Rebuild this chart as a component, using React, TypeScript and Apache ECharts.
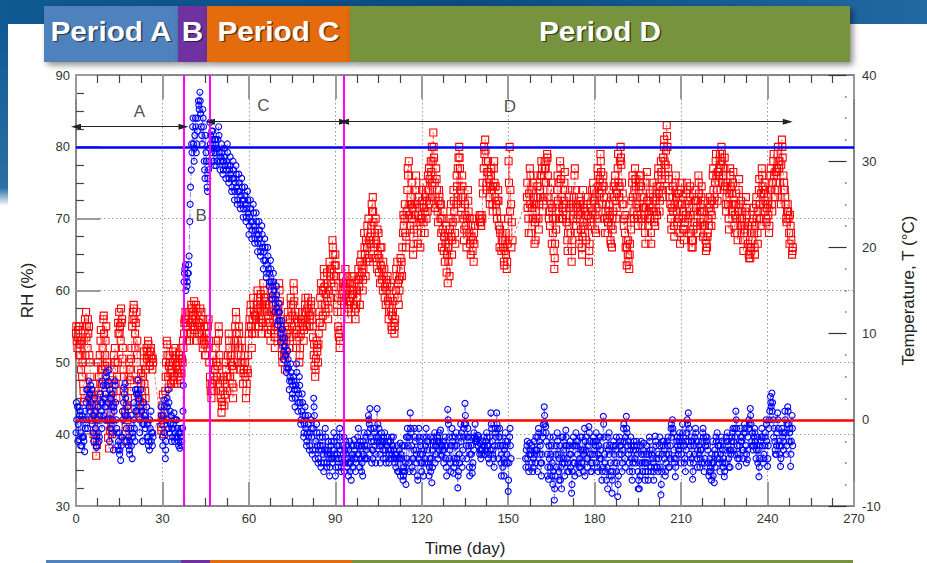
import React, { useEffect, useRef } from 'react';
import * as echarts from 'echarts';

const FONT = '"Liberation Sans", Arial, Helvetica, sans-serif';

// Readings are every 0.5 day from each period's first day; a second set of
// readings sits 0.25 day later and a third set 0.125 day later.
const STEP = 0.5;
const periodStarts = [0, 37, 46.5, 93];
const offsetStarts = [0.25, 37.25, 46.75, 93.25];
const thirdStarts = [0.125, 37.125, 46.625, 93.125];

// ---- Relative humidity (%), red squares ----
const rhA = [
  54, 52, 55, 51, 53, 47, 45, 57, 52, 55,
  48, 44, 47, 43, 37, 42, 48, 53, 47, 56,
  51, 55, 47, 38, 43, 40, 46, 52, 45, 50,
  57, 53, 56, 49, 43, 39, 45, 50, 46, 55,
  58, 54, 57, 49, 43, 47, 45, 50, 46, 52,
  53, 50, 52, 49, '-', '-', '-', '-', '-', 41,
  44, 40, 46, 53, 48, 51, 47, 50, 48, 52,
  47, 50, 49, 52,
];
const rhA2 = [
  53, 54.5, 52.5, 49, 50, 44.5, 51, 55, 54, 50,
  46, 45, 44, 40, 38.5, 46, 51, 49, 52, 54,
  53, 50, 42, 40.5, 41, 44, 49, 47, 48, 54,
  55, 55.5, 52, 46, 41, 42, 48, 47.5, 52, 57,
  56, 55.5, 53, 45, 44.5, 46, 48, 47, 49, 51.5,
  51, 51.5, 50.5, 50, '-', '-', '-', '-', '-', 42.5,
  42, 43, 50, 51, 49.5, 48.5, 49, 47.5, 50.5, 49.5,
  48.5, 51, 47.5, 50.5,
];
const rhA3 = [
  55, 53.5, 51, 53, 48, 46, 56, 53.5, 56, 51,
  45.5, 42, 40, 39, 44, 50, 45.5, 54.5, 49, 56.5,
  49.5, 44, 39.5, 42, 45, 47.5, 51, 50, 46, 55.5,
  54, 57.5, 50.5, 48, 40, 44, 43.5, 49, 50.5, 56,
  57.5, 52, 51, 47.5, 42.5, 48.5, 44, 51.5, 45, 50.5,
  52.5, 49.5, 51, 50.5, '-', '-', '-', '-', '-', 40.5,
  45.5, 41.5, 48, 52.5, 46.5, 50, 49, 51.5, 47, 51,
  49, 48, 50.5, 48.5,
];
const rhB = [50, 54, 57, 53, 56, 54, 58, 55, 58.5, 56, 53, 57, 55, 57, 52, 55, 51, 54, 56];
const rhB2 = [52, 56, 55, 55, 53, 57, 56, 57, 55, 57.5, 55, 54, 56, 54, 53, 51, 53, 55, 50];
const rhB3 = [53, 55.5, 56, 54, 57, 55.5, 57.5, 56.5, 54.5, 58, 54, 55.5, 57.5, 53, 56, 52.5, 54, 52, 53];
const rhC = [
  48, 45, 50, 46, 52, 48, 55, 47, 43, 46,
  44, 50, 46, 54, 48, 51, 45, 53, 57, 50,
  55, 49, 53, 47, 51, 45, 49, 54, 57, 52,
  59, 54, 56, 60, 55, 58, 54, 61, 57, 59,
  55, 58, 53, 60, 56, 52, 57, 55, 61, 56,
  51, 54, 49, 53, 57, 52, 59, 55, 61, 56,
  52, 57, 50, 54, 57, 53, 58, 56, 59, 55,
  58, 56, 51, 48, 53, 50, 57, 61, 55, 63,
  58, 61, 56, 64, 59, 67, 62, 65, 59, 55,
  52, 57, 62,
];
const rhC2 = [
  46, 47, 48, 49, 50, 53, 51, 45, 44.5, 48,
  47, 48, 51, 52, 50, 47, 49, 55, 54, 52,
  52, 51, 50, 49, 48, 47, 51, 56, 55, 56,
  57, 55, 58, 57.5, 57, 56, 58, 59, 58, 57,
  56.5, 55.5, 57, 58, 54, 55, 56, 58, 58.5, 53,
  52.5, 51, 51.5, 55, 54.5, 56, 57, 58, 58.5, 54,
  54.5, 53.5, 52, 55.5, 55, 56, 57, 57.5, 57, 56.5,
  57, 53.5, 49.5, 50.5, 51.5, 54, 59, 58, 60, 60.5,
  59.5, 58.5, 60, 62, 63, 65, 63.5, 62, 57, 53.5,
  54.5, 59.5, 60,
];
const rhC3 = [
  47, 46, 51, 47.5, 53, 49.5, 54, 46, 44, 47.5,
  45.5, 49, 48, 53, 51, 49.5, 46.5, 52, 56, 53,
  54, 50, 52, 48.5, 50, 46, 48.5, 55, 58, 54,
  58, 56.5, 57, 59, 56, 59.5, 55.5, 60, 58.5, 58,
  54, 57, 54.5, 59, 57, 53.5, 56, 57, 60, 55,
  50, 53, 50.5, 54, 56, 53.5, 58, 56.5, 60, 57,
  53, 55.5, 51, 56, 56, 54.5, 59, 55, 58, 56,
  58.5, 55, 52.5, 49, 52, 52.5, 55.5, 60, 56.5, 62,
  57, 62.5, 57.5, 63, 61, 66, 60.5, 63.5, 58, 54,
  53, 58.5, 61,
];
const rhD = [
  58, 63, 60, 56, 61, 57, 62, 58, 56, 60,
  63, 58, 65, 60, 68, 62, 66, 70, 64, 69,
  73, 66, 70, 63, 68, 61, 66, 60, 63, 58,
  61, 56, 59, 55, 57, 54, 60, 64, 58, 62,
  64, 68, 70, 66, 74, 78, 69, 75, 65, 72,
  76, 68, 73, 66, 70, 75, 68, 74, 71, 77,
  73, 80, 82, 75, 77, 71, 74, 70, 66, 71,
  64, 69, 61, 67, 70, 65, 74, 68, 72, 77,
  80, 74, 76, 70, 72, 66, 74, 68, 65, 70,
  64, 69, '-', '-', 70, 69.5, 70, 77, 81, 75,
  78, 73, 76, 72, 77, 73, 71, 74, 66, 70,
  68, 64, 67, 63, 70, 80, 72, 67, '-', '-',
  '-', '-', '-', '-', '-', '-', '-', 73, 70, 77,
  68, 75, 72, 67, 76, 70, 74, 78, 71, 75,
  77, 79, 73, 69, 75, 68, 63, 70, 74, 71,
  78, 73, 70, 75, 72, 67, 69, 74, 64, 70,
  76, 72, 68, 73, 71, 66, 74, 69, 67, 72,
  64, 69, 71, 75, 73, 68, 77, 72, 79, 74,
  76, 70, 72, 68, 74, 67, 66, 71, 75, 70,
  77, 73, 80, 75, 72, 68, 67, 65, 63, 70,
  75, 71, 77, 72, 69, 74, 76, 70, 73, 68,
  75, 70, 72, 68, 75, 71, 69, 73, 76, 71,
  78, 73, 80, 76, 83, 77, 74, 70, 73, 69,
  75, 71, 72, 68, 74, 70, 67, 72, 75, 70,
  73, 68, 66, 71, 74, 69, 76, 71, 73, 69,
  71, 67, 66, 70, 73, 69, 76, 72, 78, 74,
  75, 79, 80, 76, 77, 72, 74, 70, 77, 72,
  75, 69, 72, 68, 74, 70, 71, 67, 69, 73,
  68, 65, 64.5, 68, 70, 66, 72, 68, 74, 70,
  77, 72, 75, 70, 73, 68, 76, 72, 78, 74,
  75, 79, 77, 73, 81, 76, 74, 70, 72, 68,
  69, 65,
];
const rhD2 = [
  60.5, 61, 58, 58.5, 59, 59.5, 60, 57, 58, 61.5,
  60.5, 62, 62.5, 63, 65, 64, 68, 67, 66.5, 71,
  69.5, 68, 66.5, 65, 64.5, 63.5, 63, 62, 60.5, 60,
  58.5, 58, 57, 56.5, 55.5, 56, 62, 61, 60, 63,
  66, 69, 68, 71, 76, 72, 72, 71.5, 68.5, 74,
  72, 70.5, 69.5, 68, 72.5, 71.5, 71, 72.5, 74, 75.5,
  76.5, 78, 78.5, 73, 74, 72.5, 72, 68, 68.5, 67.5,
  66.5, 65, 64, 68.5, 67.5, 69.5, 71, 70, 74.5, 78.5,
  77, 73, 73, 68.5, 69, 70, 71, 66.5, 67.5, 67,
  66.5, '-', '-', '-', 69.5, 70.5, 73.5, 79, 78, 76.5,
  75.5, 74.5, 74, 74.5, 75, 72, 72.5, 69, 68, 67,
  66, 65.5, 65, 66.5, 75, 74, 69.5, '-', '-', '-',
  '-', '-', '-', '-', '-', '-', '-', 71.5, 73.5, 76,
  71.5, 73, 69.5, 70, 73, 72, 76, 77, 73, 77,
  78, 76, 71, 72, 71.5, 65.5, 66.5, 72, 72.5, 75,
  75.5, 71.5, 72.5, 74, 69.5, 68, 71.5, 72, 67, 73,
  74, 70, 70.5, 72, 68.5, 67.5, 71.5, 71, 69.5, 70.5,
  66.5, 70, 73, 74, 70.5, 70, 74.5, 75.5, 76.5, 75,
  73, 71, 70, 71, 70.5, 69, 68.5, 73, 72.5, 73.5,
  75, 78, 77.5, 73.5, 70, 66, 66, 64, 66.5, 72.5,
  73, 74, 74.5, 70.5, 71.5, 75, 73, 71.5, 70.5, 71.5,
  72.5, 71, 70, 71.5, 73, 70, 71, 74.5, 73.5, 74.5,
  75.5, 78.5, 78, 79.5, 80, 75.5, 72, 71.5, 71, 72,
  73, 73.5, 70, 72, 72, 68.5, 69.5, 73.5, 72.5, 71.5,
  70.5, 67, 68.5, 72.5, 71.5, 72.5, 73.5, 72, 71, 70,
  69, 66.5, 68, 71.5, 71, 72.5, 74, 75, 76, 76.5,
  77, 77.5, 78, 74, 74.5, 73, 72, 73.5, 74.5, 73.5,
  72, 70.5, 70, 71, 72, 72.5, 69, 68, 71, 70.5,
  66.5, 66, 66, 67, 68, 69, 70, 71, 72, 73.5,
  74.5, 73.5, 72.5, 71.5, 70.5, 74, 74, 75, 76, 76.5,
  77, 78, 75, 77.5, 78.5, 75, 72, 71, 70, 70.5,
  67, 66,
];
const rhD3 = [
  61, 59, 62, 57.5, 58.5, 62, 59.5, 61, 57.5, 59,
  61.5, 64, 63.5, 61.5, 66, 67, 69, 64.5, 67.5, 72,
  71, 64.5, 67, 68.5, 62.5, 66, 61.5, 64, 59, 61.5,
  62, 57, 60.5, 54.5, 58.5, 55, 63, 59, 61.5, 64.5,
  62, 70.5, 72, 67.5, 77, 70.5, 73, 70, 66.5, 70.5,
  74, 66.5, 71.5, 70, 74, 69.5, 73, 70, 76, 72,
  78, 75, 80, 71.5, 75.5, 69.5, 73, 72, 70, 65.5,
  68, 62.5, 66, 62, 72, 67, 72.5, 66.5, 76, 73,
  78.5, 71.5, 74.5, 67, 70.5, 68, 72.5, 70, 69, 65.5,
  68, '-', '-', '-', 70.5, 69, 75, 80, 79.5, 74,
  76.5, 72, 77, 71, 78, 74.5, 70, 72.5, 68.5, 65.5,
  67, 63.5, 68, 64, 78, 71, 66, '-', '-', '-',
  '-', '-', '-', '-', '-', '-', '-', 75, 68, 72,
  74, 70, 66.5, 72, 74.5, 68.5, 73, 76, 72.5, 78,
  75, 78.5, 70, 74, 66.5, 70, 64.5, 68.5, 76, 70,
  77, 70, 71, 76.5, 70.5, 65.5, 73, 68, 65.5, 71.5,
  77, 69, 71.5, 66.5, 72.5, 65, 72, 68, 70.5, 73,
  65.5, 71.5, 74, 72.5, 68.5, 71.5, 76, 73.5, 78, 72,
  74.5, 68, 73, 69.5, 72, 66.5, 70, 74.5, 76, 71.5,
  79, 74.5, 78.5, 72, 69, 70.5, 63.5, 67, 65, 68.5,
  76, 70, 75.5, 73, 70, 76, 74.5, 69, 71.5, 66.5,
  76.5, 69, 73.5, 66.5, 74, 69.5, 72.5, 70.5, 77, 72.5,
  76.5, 74, 81, 77.5, 81.5, 74, 73, 68.5, 74.5, 67.5,
  76, 69.5, 73.5, 66.5, 75, 71, 68.5, 70.5, 74, 68,
  74.5, 66, 67, 69.5, 72.5, 68, 75, 69.5, 74.5, 67.5,
  72.5, 65.5, 67.5, 69, 72, 70.5, 77, 73, 79, 72.5,
  76, 78, 79, 75, 78.5, 71, 75, 68.5, 76, 71,
  76.5, 68, 73.5, 67, 75.5, 69, 70, 65.5, 68.5, 71.5,
  69, 64.5, 65.5, 69.5, 71.5, 65, 73, 66.5, 75.5, 69,
  76, 71, 74, 69.5, 72, 69, 77, 71, 79, 73,
  76.5, 80, 78, 72, 80, 74, 73, 69.5, 71, 66.5,
  68, 65.5,
];

// ---- Temperature (°C), blue circles ----
const tA = [
  -1.5, 1.5, -2.3, 1, -3, 0, -3.7, 2, -1, 4.5,
  1, 3.5, -1.5, 2.5, -3, 0, -2.5, 3, -1, 4,
  0, 5.5, 2, 5.8, -1, 3, -3.5, 4.5, 0, -3,
  -1.5, -4.7, -2, 2, 4.2, -1, 1.5, -3.5, -1, -4.5,
  0, -2.5, 3, 4.6, 0, 3.5, -2.5, 2, -1, 1.5,
  -2, -3.5, 1, -3, '-', '-', '-', '-', '-', 1.5,
  -2, 2.3, -4.5, 0, 3.5, -1.5, 0.5, -2, 0.8, -1.5,
  0, -2.5, -3.3, -1,
];
const tA2 = [
  0, -0.5, 0.5, -1.5, -2, -2.5, -1, 3.5, 2.5, 3,
  2, 0.5, 0.5, -1, -2, -1.5, 0.5, 1, 2, 2.5,
  3, 4, 4.5, 3.5, 1.5, 0, 1, 2, -1.5, -2.5,
  -3.5, -3, 0, 3, 2.5, 0.5, -2, -2.5, -3, -2,
  -1, 1, 3.5, 2.5, 1.5, 1, -0.5, 0.5, 0, -0.5,
  -2.5, -1, -1.5, -2, '-', '-', '-', '-', '-', -0.5,
  0.5, -1.5, -2.5, 1.5, 2, -0.5, -1, -0.5, -2.5, 0,
  -1, -1.5, -2, -2.5,
];
const tA3 = [
  2, -2.5, 1.5, -3, 0.5, -2, 1, 0, 3.5, 1.5,
  4, -0.5, -2.5, 1, -3.2, 1.5, -2, 2, 4.5, 0.5,
  1.5, 5, 0, -2.5, 2.5, -1.5, 1.5, 4, -1, -3.5,
  -4, -2, 1, 3.8, 0.5, -2.5, -3, -4, 0.5, -1.5,
  2, 3.5, 1, 3, -1.5, 1, -2.5, -0.5, 0.5, -2,
  -3, 0, -2.5, -1.5, '-', '-', '-', '-', '-', 0.5,
  -3, 1.5, -3.5, 2.5, -1, 1, -2.5, -1, 0, -2,
  -2, -3, -1.5, -3,
];
const tB = [-1, 16, 18, 15.5, 17, 23, 29, 34, 30, 35, 32, 37, 38, 34, 36, 30, 33, 27, 29];
const tB2 = [4, 17.5, 16.5, 17, 19, 27, 31, 32, 33, 31, 35, 36, 35.5, 32, 34, 28, 30, 28, 31.5];
const tB3 = [1, 17, 15, 16, 18, 25, 32, 35, 31.5, 34, 33.5, 36.5, 37, 33, 35, 29, 31, 26.5, 30];
const tC = [
  34.5, 31, 33.5, 29.5, 32.5, 30, 34, 29, 32, 28.5,
  31.5, 28, 32, 27.5, 30.5, 26.5, 30, 25.5, 29.5, 25,
  28.5, 24.5, 28, 23.5, 27, 23, 26.5, 21.5, 25.5, 21,
  25, 20.5, 24, 19.5, 23, 19, 22.5, 17.5, 21, 16.5,
  20, 15.5, 18.5, 14, 17, 12.5, 15.5, 11, 13.5, 9,
  11.5, 7, 9.5, 5.5, 8, 3.5, 6.5, 2.5, 5, 1.5,
  6.5, 1, 5, -0.5, 3, -2, 1.5, -3, 0.5, -3.5,
  0, -4, 2.5, -4.5, -0.5, -5, -1.5, -5.5, -2, -6,
  -1, -5.5, -2.5, -6.5, -3, -5, -1.5, -6.5, -2, -5.5,
  -1, -6, -3,
];
const tC2 = [
  33, 32.5, 31.5, 31, 31.5, 32.5, 31, 30.5, 30, 30,
  29.5, 30, 29.5, 29, 28.5, 28, 28, 27.5, 27, 26.5,
  26.5, 26, 25.5, 25.5, 25, 24.5, 24, 23.5, 23, 23,
  22.5, 22, 21.5, 21.5, 21, 20.5, 20, 19.5, 18.5, 18,
  17.5, 17, 16, 15.5, 15, 14, 13, 12.5, 11.5, 10.5,
  9.5, 8.5, 7.5, 6.5, 6, 5, 4.5, 4, 3.5, 4,
  3.5, 3, 2, 1, 0.5, -0.5, -1, -1.5, -2, -1.5,
  -2, -1, 0.5, -2.5, -3, -3.5, -3, -3.5, -4, -3.5,
  -3.5, -4, -4.5, -4, -4.5, -3.5, -4, -4.5, -4, -3,
  -3.5, -4.5, -4,
];
const tC3 = [
  32, 33.5, 30, 32.5, 29.5, 31.5, 33, 30, 31, 29,
  30.5, 29, 31, 28, 29.5, 27, 29, 26.5, 28.5, 25.5,
  27.5, 25, 27, 24.5, 26, 23.5, 25.5, 22.5, 24.5, 22,
  24, 21, 23, 20.5, 22, 19.5, 21.5, 18.5, 20, 17,
  19, 16, 17.5, 14.5, 16, 13.5, 14.5, 11.5, 12.5, 10,
  10.5, 8, 8.5, 6, 7, 4.5, 5.5, 3, 4.5, 2.5,
  5.5, 2, 4, 0, 2, -1.5, 0.5, -2.5, -0.5, -3,
  -1, -3.5, 1.5, -3.5, -1.5, -4.5, -2, -5, -3, -5,
  -2, -5, -3.5, -5.5, -2.5, -4.5, -2.5, -5.5, -3, -4.5,
  -2, -5.5, -5,
];
const tD = [
  -2, -5, -3, -6.5, -2.5, -7, -4, -2.3, -6, -3,
  -1, -5.5, -3, -6.5, -1.5, -4.5, -3, 0.5, 1.3, -2.5,
  -4.5, -1, -5, 1.3, -2, -4, -1.5, -3.5, -2.5, -4.5,
  -2, -3.5, -4.5, -2, -3, -4.5, -5.5, -3, -6, -2.7,
  -4.5, -7, -3, -7.5, -1, -5, 0.8, -3, -6, -1,
  -3.5, -6.5, -1, -4, -6, -2, -5, -1, -3.5, -6.5,
  -2, -7.3, -3, -1.5, -4, -2, -3.5, -1.2, -4.2, -2.5,
  -3, -5.5, 1.2, -2, -5, -1, -6.2, -3, -1.5, -7.9,
  -4, -0.5, -5.5, -2, 1.9, -3, -1, -5.5, -2, -6.2,
  -3.5, -0.5, -2.5, -1.8, -2.7, -4.5, -3.5, -2, -4, -1.5,
  -3, -5, 0.8, -2.5, -4.5, -1, 0.8, -3, -1, -5,
  -3, -6.5, -1.5, -4, -8.3, -2, -4.5, '-', '-', '-',
  '-', '-', '-', '-', '-', '-', -4.5, -3, -5.5, -2.7,
  -4, -6, -2.5, -5, -3.5, -1, -4, -6.5, -2, 1.5,
  -0.8, -4, -6.9, -2, -3, -7.5, -9.3, -4, -1.5, -6,
  -3, -8, -2, -5, -1.2, -4.5, -6, -2.5, -8.5, -3,
  -5, -1.5, -4, -6.2, -2, -5, -6, -1, -3.5, -5.5,
  -0.8, -4, -6, -2.5, -4, -1.5, -5.5, -3, -2, -7,
  0.4, -4, -3, -8, -1.5, -5, -8.5, -3, -5, -2,
  -8.9, -4, -2.5, -6, -1, -4.5, 0.4, -3, -5, -2,
  -7, -3.5, -4.5, -2.5, -6, -8, -3, -5, -2.7, -7,
  -4, -6, -2, -5.5, -3.5, -7, -1.9, -4.5, -6, -3,
  -8.7, -4, -2.5, -6.5, -4, -2, -5.5, -1, 0, -3.5,
  -6.6, -2.5, -4, -1.5, -5, -0.5, -3, -6, -1.5, 0.8,
  -4, -2, -6.9, -3, -1, -4.5, -2.5, -5.5, -3.5, -1.5,
  -6, -3, -2, -5, -4.5, -7, -2.5, -7.3, -4, -1.5,
  -3, -6, -2, -5, -6.6, -3.5, -1.5, -4.5, -5.5, -2.5,
  -1, -4, 1, -3, -5.4, -1, -2.5, -4.5, -0.5, -3,
  -4.6, 0, 1.3, -2.5, -3.5, -1, -4.5, -2, -6.6, -3,
  -1, -5, -3, 0, -5.4, -1, 2.7, 3.1, 0, -2.5,
  -4, 0.8, -2.5, -5.4, -1, -3.5, 1, -4, 1.5, -2.5,
  -5.4, 0.5,
];
const tD2 = [
  -3.5, -4, -4.5, -5, -5, -4.5, -3, -4.5, -4.5, -2,
  -3, -4.5, -5, -4, -3, -3.5, -1.5, -0.5, -1, -3.5,
  -2.5, -3, -2, -0.5, -3, -2.5, -2.5, -2, -3.5, -3,
  -2.5, -4, -3.5, -3, -3.5, -4, -4, -4.5, -4.5, -4,
  -6, -5.5, -5, -4.5, -3, -2, -1.5, -4.5, -3.5, -2.5,
  -5, -4.5, -2.5, -5, -4, -3.5, -3, -2.5, -5, -4.5,
  -4.5, -5.5, -2.5, -3, -3, -2.5, -2.5, -3, -3.5, -3.5,
  -4.5, -3, -0.5, -3.5, -3, -2.5, -4.5, -5, -4.5, -6,
  -2, -1.5, -3.5, -0.5, -0.5, -2, -3, -4, -4, -5,
  -2, -2.2, -2.2, -2, -3.5, -4, -3, -3, -2.5, -3,
  -4, -3.5, -1, -3.5, -3, -2, -1, -2, -3, -4,
  -4.5, -5, -3, -2.5, -5, -3, '-', '-', '-', '-',
  '-', '-', '-', '-', '-', '-', -3.5, -4.5, -4, -4,
  -5, -4.5, -3.5, -3.5, -2, -2.5, -5, -4, -0.5, -0.5,
  -2.5, -5.5, -4.5, -4, -5, -6, -6.5, -5.5, -4, -4.5,
  -5.5, -5, -3.5, -3, -3, -5, -4, -4, -6, -5,
  -3, -3, -5, -4.5, -3.5, -3.5, -3.5, -2.5, -4.5, -3,
  -2.5, -5, -4, -3.5, -3, -2.5, -4, -4.5, -4.5, -5.5,
  -2, -6, -5.5, -3.5, -3, -6.5, -6, -4, -3.5, -5,
  -6.5, -3, -4, -3.5, -2.5, -2, -1.5, -4, -3.5, -4.5,
  -5, -3, -3.5, -4, -7, -6.5, -4, -3.5, -5, -5,
  -5, -4, -3.5, -4, -5, -5.5, -3, -5.5, -4.5, -5.5,
  -6, -3, -4.5, -5, -3, -4, -3, -2, -1.5, -5,
  -4.5, -3, -2.5, -3, -2.5, -2, -4.5, -3.5, -0.5, -1,
  -3, -4.5, -5, -2, -2.5, -3.5, -4, -3.5, -2.5, -2,
  -4.5, -2.5, -3.5, -6, -6, -5, -5, -5.5, -2.5, -3,
  -4.5, -4, -3.5, -4.5, -5, -2.5, -3, -3.5, -4, -1.5,
  -2.5, -2, -1, -4, -3, -2.5, -3.5, -1.5, -1.5, -4,
  -2, -1, -0.5, -1.5, -2, -2.5, -3, -3.5, -4.5, -2,
  -3, -4, -1.5, -2.5, -3, 1, 1.5, 2, -1, -4,
  -1.5, -1, -4, -3, -2, -1.5, -1.5, -0.5, -0.5, -1,
  -2.5, -3,
];
const tD3 = [
  -6, -2.5, -5.5, -3.5, -6, -3, -5.5, -3.5, -5, -4,
  -4, -2.5, -6, -2.5, -4.5, -2, -4.5, 0, -2, -5,
  -3.5, -1.5, -4, -2.5, -1, -5, -3, -4.5, -1.5, -5,
  -3, -5, -2.5, -4, -2, -5, -4.5, -6, -3.5, -6.5,
  -3, -6.5, -6, -2, -2, -6, -1, -5.5, -4.5, -2,
  -4, -7, -2, -3, -5, -6.5, -4.5, -2, -2.5, -5.5,
  -6, -3.5, -2, -5, -2.5, -4.5, -1.5, -4, -3, -5,
  -2, -6.5, 0, -4.5, -6, -2, -5.5, -2, -3, -6.5,
  -5, -2.5, -4.5, -1, 0.5, -4.5, -2, -6.5, -3, -5.5,
  -1.5, -2.5, -2.5, -3, -4, -3.5, -2.5, -4, -3.5, -2,
  -4.5, -2, -0.5, -4, -5.5, -1.5, -0.5, -4.5, -2, -6.5,
  -5.5, -3.5, -2.5, -5, -7, -1, '-', '-', '-', '-',
  '-', '-', '-', '-', '-', '-', -5.5, -2.5, -6, -3.5,
  -3, -5.5, -4, -2, -6, -1.5, -3, -5, -1.5, 0.5,
  -1.5, -6.5, -3, -5.5, -6.5, -2, -8, -3, -2.5, -7,
  -7, -2, -4.5, -6.5, -2, -6, -3, -5.5, -7.5, -2,
  -6.5, -2.5, -2.5, -5.5, -5.5, -2, -4, -6.5, -2, -4.5,
  -1.5, -6, -5, -2, -2.5, -5, -6, -2, -3.5, -6,
  -0.5, -5, -7, -2, -4, -6, -7, -2.5, -3, -6,
  -7.5, -2, -3, -5, -0.5, -5.5, -1, -2.5, -6, -3,
  -6, -2.5, -5, -3, -8, -5, -2.5, -6, -4, -6,
  -3, -7, -2.5, -6, -4.5, -6, -2.5, -5.5, -4, -2,
  -7.5, -2.5, -3.5, -6, -2.5, -5.5, -4.5, -0.5, -1, -4.5,
  -5.5, -2, -3.5, -2, -4, -1.5, -5, -2.5, 0, -2.5,
  -5, -2.5, -6, -4, -1.5, -5.5, -3, -4.5, -5, -1,
  -5, -2, -3, -6.5, -5.5, -4, -6.5, -3.5, -2, -4.5,
  -5, -3, -2.5, -5.5, -6, -2, -2.5, -5.5, -3.5, -2,
  -3.5, -1, 0, -4.5, -4.5, -2, -2, -3.5, -1, -5,
  -3.5, -0.5, 0.5, -3, -3, -1.5, -3.5, -5, -5.5, -2.5,
  -2, -4.5, -2, -0.5, -4.5, 0, 2, 1, -2, -3.5,
  -3, 0, -3, -4.5, -1.5, -2.5, 0, -3, 1, -1.5,
  -4, -1,
];

// ---- Reference lines and annotations ----
const rhLimitHigh = 80; // blue horizontal line (RH %)
const rhLimitLow = 42; // red horizontal line (RH %), i.e. T = 0 °C
const periodBoundaries = [37.3, 46.3, 93]; // magenta lines (day)
const periodArrows = [
  [0, 37.3, 82.8],
  [46.5, 93, 83.5],
  [93, 247, 83.5],
];
const periodLabels = [
  [22, 84.9, 'A'],
  [43.4, 70.5, 'B'],
  [65, 85.8, 'C'],
  [150.6, 85.6, 'D'],
];
const headerPeriods = ['Period A', 'B', 'Period C', 'Period D'];

function toPoints(starts: number[], arrays: any[][]) {
  const out: any[] = [];
  arrays.forEach((arr, k) => {
    arr.forEach((v, i) => out.push([starts[k] + i * STEP, v]));
  });
  return out;
}
function merged(...sets: any[][]) {
  return ([] as any[]).concat(...sets).sort((p, q) => p[0] - q[0]);
}

export default function App() {
  const ref = useRef<HTMLDivElement>(null);

  useEffect(() => {
    if (!ref.current) return;
    const chart = echarts.init(ref.current, null, { renderer: 'svg' });

    const rhData = merged(
      toPoints(periodStarts, [rhA, rhB, rhC, rhD]),
      toPoints(offsetStarts, [rhA2, rhB2, rhC2, rhD2]),
      toPoints(thirdStarts, [rhA3, rhB3, rhC3, rhD3]),
    );
    const tData = merged(
      toPoints(periodStarts, [tA, tB, tC, tD]),
      toPoints(offsetStarts, [tA2, tB2, tC2, tD2]),
      toPoints(thirdStarts, [tA3, tB3, tC3, tD3]),
    );

    const majorTick = { show: true, inside: true, length: 24, lineStyle: { color: '#9a9a9a', width: 2 } };
    const minorTick = { show: true, splitNumber: 4, length: 8, lineStyle: { color: '#444', width: 1.2 } };
    const frameLine = { show: true, onZero: false, lineStyle: { color: '#666', width: 1.5 } };
    const dotted = { show: true, lineStyle: { color: '#9a9a9a', width: 1, type: [1.5, 2.5] } };
    const tickLabel = { fontSize: 13, color: '#333', fontFamily: FONT };
    const nameStyle = { fontSize: 17, color: '#222', fontFamily: FONT };

    const barColors = ['#4F81BD', '#7030A0', '#E46C0A', '#77933C'];
    const barX = [44, 178, 207, 350, 850];
    const lineX = [46, 181, 210, 352, 853];

    const graphics: any[] = [
      {
        type: 'rect', z: -10, silent: true,
        shape: { x: 0, y: 0, width: 927, height: 24 },
        style: {
          fill: new echarts.graphic.LinearGradient(0, 0, 1, 0, [
            { offset: 0, color: '#0f5a93' },
            { offset: 0.5, color: '#0b4c80' },
            { offset: 1, color: '#2169a3' },
          ]),
        },
      },
      {
        type: 'rect', z: -10, silent: true,
        shape: { x: 0, y: 24, width: 8, height: 182 },
        style: {
          fill: new echarts.graphic.LinearGradient(0, 0, 0, 1, [
            { offset: 0, color: '#0f5a93' },
            { offset: 0.9, color: '#2a6fa5' },
            { offset: 1, color: '#ffffff' },
          ]),
        },
      },
    ];
    headerPeriods.forEach((label, i) => {
      graphics.push({
        type: 'rect', silent: true, z: 1,
        shape: { x: barX[i], y: 6, width: barX[i + 1] - barX[i], height: 56 },
        style: {
          fill: barColors[i],
          shadowBlur: 6, shadowColor: 'rgba(0,0,0,0.45)', shadowOffsetX: 3, shadowOffsetY: 3,
        },
      });
    });
    headerPeriods.forEach((label, i) => {
      const cx = (barX[i] + barX[i + 1]) / 2;
      graphics.push({
        type: 'text', silent: true, z: 3,
        x: cx + 1.5, y: 32.5,
        style: {
          text: label, fill: 'rgba(0,0,0,0.55)', font: `bold 27px ${FONT}`,
          align: 'center', verticalAlign: 'middle',
        },
        scaleX: 1.1,
      });
      graphics.push({
        type: 'text', silent: true, z: 4,
        x: cx, y: 31,
        style: {
          text: label, fill: '#ffffff', font: `bold 27px ${FONT}`,
          align: 'center', verticalAlign: 'middle',
        },
        scaleX: 1.1,
      });
      graphics.push({
        type: 'rect', silent: true, z: 1,
        shape: { x: lineX[i], y: 560, width: lineX[i + 1] - lineX[i], height: 3 },
        style: { fill: barColors[i] },
      });
    });

    const straightLines: any[] = [
      { yAxis: rhLimitHigh, lineStyle: { color: '#0000ff', width: 2.5, type: 'solid' } },
      { yAxis: rhLimitLow, lineStyle: { color: '#ff0000', width: 2.5, type: 'solid' } },
      ...periodBoundaries.map((d) => ({ xAxis: d, lineStyle: { color: '#ff00ff', width: 2, type: 'solid' } })),
    ];
    const arrowLines: any[] = periodArrows.map(([a, b, lvl]) => [
      { coord: [a, lvl], symbol: 'triangle', symbolSize: [6, 10] },
      { coord: [b, lvl], symbol: 'triangle', symbolSize: [6, 10], lineStyle: { color: '#222', width: 1, type: 'solid' } },
    ]);

    const option: any = {
      animation: false,
      grid: { left: 76, right: 73, top: 75, bottom: 57 },
      graphic: graphics,
      xAxis: [
        {
          type: 'value', position: 'bottom', min: 0, max: 270, interval: 30,
          name: 'Time (day)', nameLocation: 'middle', nameGap: 34, nameTextStyle: nameStyle,
          axisLine: frameLine, axisTick: majorTick, minorTick,
          axisLabel: { ...tickLabel, margin: 6 },
          splitLine: dotted,
        },
        {
          type: 'value', position: 'top', min: 0, max: 270, interval: 30,
          axisLine: frameLine, axisTick: majorTick, minorTick,
          axisLabel: { show: false }, splitLine: { show: false },
        },
      ],
      yAxis: [
        {
          type: 'value', position: 'left', min: 30, max: 90, interval: 10,
          name: 'RH (%)', nameLocation: 'middle', nameGap: 40, nameTextStyle: nameStyle,
          axisLine: frameLine, axisTick: majorTick, minorTick,
          axisLabel: { ...tickLabel, margin: 6 },
          splitLine: dotted,
        },
        {
          type: 'value', position: 'right', min: -10, max: 40, interval: 10,
          name: 'Temperature, T (°C)', nameLocation: 'middle', nameGap: 46, nameTextStyle: nameStyle,
          axisLine: frameLine, axisTick: { show: false },
          axisLabel: { ...tickLabel, margin: 8 },
          splitLine: { show: false },
        },
        {
          type: 'value', position: 'right', offset: -7.5, min: -10, max: 40, interval: 10,
          axisLine: { show: false, onZero: false },
          axisTick: { show: true, inside: true, length: 18, lineStyle: { color: '#333', width: 1.2 } },
          minorTick: { show: true, splitNumber: 4, length: 1.5, lineStyle: { color: '#666', width: 1.5 } },
          axisLabel: { show: false }, splitLine: { show: false },
        },
      ],
      series: [
        {
          name: 'RH', type: 'line', xAxisIndex: 0, yAxisIndex: 0, data: rhData,
          symbol: 'rect', symbolSize: 7, showSymbol: true, connectNulls: true,
          itemStyle: { color: 'rgba(255,255,255,0)', borderColor: '#ff0000', borderWidth: 1.1 },
          lineStyle: { color: '#ff2020', width: 0.7, type: [3, 2], opacity: 0.85 },
          z: 3, silent: true,
        },
        {
          name: 'T', type: 'line', xAxisIndex: 0, yAxisIndex: 1, data: tData,
          symbol: 'circle', symbolSize: 6, showSymbol: true, connectNulls: true,
          itemStyle: { color: 'rgba(255,255,255,0)', borderColor: '#0000ff', borderWidth: 1.1 },
          lineStyle: { color: '#2020ff', width: 0.7, type: [5, 2, 1.5, 2], opacity: 0.85 },
          z: 4, silent: true,
        },
        {
          name: 'refs', type: 'line', xAxisIndex: 0, yAxisIndex: 0, data: [], z: 6, silent: true,
          markLine: {
            silent: true, animation: false, symbol: ['none', 'none'],
            label: { show: false },
            lineStyle: { color: '#222', width: 1, type: 'solid' },
            emphasis: { disabled: true },
            data: [...straightLines, ...arrowLines],
          },
        },
        {
          name: 'labels', type: 'scatter', xAxisIndex: 0, yAxisIndex: 0, data: periodLabels,
          symbolSize: 1, itemStyle: { color: 'rgba(0,0,0,0)' }, z: 7, silent: true,
          label: {
            show: true, position: 'inside', formatter: (p: any) => p.data[2],
            fontSize: 17, color: '#222', fontFamily: FONT,
          },
        },
      ],
    };

    chart.setOption(option);
    return () => chart.dispose();
  }, []);

  return (
    <div
      ref={ref}
      style={{ position: 'fixed', left: 0, top: 0, width: 927, height: 563, background: '#ffffff' }}
    />
  );
}
